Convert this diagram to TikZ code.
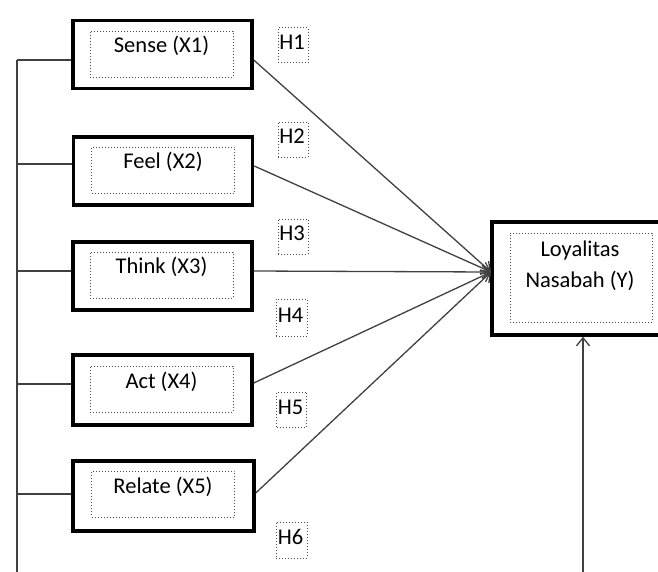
\documentclass[tikz,border=0pt]{standalone}
\usepackage{fontspec}
\setmainfont{Carlito}
\usetikzlibrary{arrows.meta}
\tikzset{
  outerbox/.style={draw=black, line width=3.5pt, minimum width=179pt, minimum height=68pt, inner sep=0pt},
  innerbox/.style={draw=black!70, dotted, line width=1pt, minimum width=143pt, minimum height=46pt, inner sep=0pt},
  hbox/.style={draw=black!70, dotted, line width=1pt, minimum width=30pt, minimum height=35pt, inner sep=0pt},
  lbl/.style={font=\fontsize{22.5}{31}\selectfont, text=black, inner sep=0pt, align=center},
  conn/.style={draw=black!75, line width=1.3pt},
  arr/.style={conn, -{Straight Barb[length=8pt,width=13pt,line width=1.3pt]}}
}
\begin{document}
\begin{tikzpicture}[x=1pt,y=-1pt]
\useasboundingbox (0,0) rectangle (658,571);
\clip (0,0) rectangle (658,571);
% predictor boxes
\node[outerbox] (s) at (162.5,54.5) {};
\node[innerbox] (si) at (161.5,54) {};
\node[lbl] (st) at (161.5,46) {Sense (X1)};
\node[outerbox] (f) at (163,171) {};
\node[innerbox] (fi) at (163,170) {};
\node[lbl] (ft) at (163,162) {Feel (X2)};
\node[outerbox] (t) at (162.5,276) {};
\node[innerbox] (ti) at (161.5,275) {};
\node[lbl] (tt) at (161.5,267) {Think (X3)};
\node[outerbox, minimum height=70pt] (a) at (162.5,390) {};
\node[innerbox] (ai) at (161.5,389) {};
\node[lbl] (at) at (161.5,382) {Act (X4)};
\node[outerbox, minimum width=181pt, minimum height=70pt] (r) at (163.5,496) {};
\node[innerbox] (ri) at (163,494) {};
\node[lbl] (rt) at (163,487) {Relate (X5)};
% outcome box
\node[outerbox, minimum width=178pt, minimum height=113pt] (y) at (581,278.5) {};
\node[innerbox, minimum width=142pt, minimum height=89pt] (yi) at (581,277.5) {};
\node[lbl] (yt) at (580,265.5) {Loyalitas\\Nasabah (Y)};
% hypothesis labels
\node[hbox] (h1) at (293,45) {};
\node[lbl] (h1t) at (292,42) {H1};
\node[hbox] (h2) at (293,139.5) {};
\node[lbl] (h2t) at (292,136) {H2};
\node[hbox] (h3) at (293,236.5) {};
\node[lbl] (h3t) at (292,233) {H3};
\node[hbox, minimum width=31pt, minimum height=37pt] (h4) at (291.5,317.5) {};
\node[lbl] (h4t) at (290.5,315) {H4};
\node[hbox] (h5) at (291.5,409.5) {};
\node[lbl] (h5t) at (290.5,407) {H5};
\node[hbox, minimum width=31pt, minimum height=36pt] (h6) at (291.5,540) {};
\node[lbl] (h6t) at (290.5,537) {H6};
% trunk
\coordinate (t1) at (17,60);
\coordinate (t2) at (17,164);
\coordinate (t3) at (17,271);
\coordinate (t4) at (17,384);
\coordinate (t5) at (17,494);
\coordinate (tb) at (17,580);
\draw[conn] (t1) -- (tb);
\draw[conn] (t1) -- (t1 -| s.west);
\draw[conn] (t2) -- (t2 -| f.west);
\draw[conn] (t3) -- (t3 -| t.west);
\draw[conn] (t4) -- (t4 -| a.west);
\draw[conn] (t5) -- (t5 -| r.west);
% arrows to Y
\coordinate (yin) at (491,272);
\draw[arr] (t1 -| s.east) -- (yin);
\draw[arr] ([yshift=-2pt]t2 -| f.east) -- (yin);
\draw[arr] (t3 -| t.east) -- (yin);
\draw[arr] ([yshift=1pt]t4 -| a.east) -- (yin);
\draw[arr] ([yshift=1pt]t5 -| r.east) -- (yin);
% vertical arrow from below
\coordinate (bot) at (583,580);
\draw[arr] (bot) -- (bot |- y.south);
\end{tikzpicture}
\end{document}
